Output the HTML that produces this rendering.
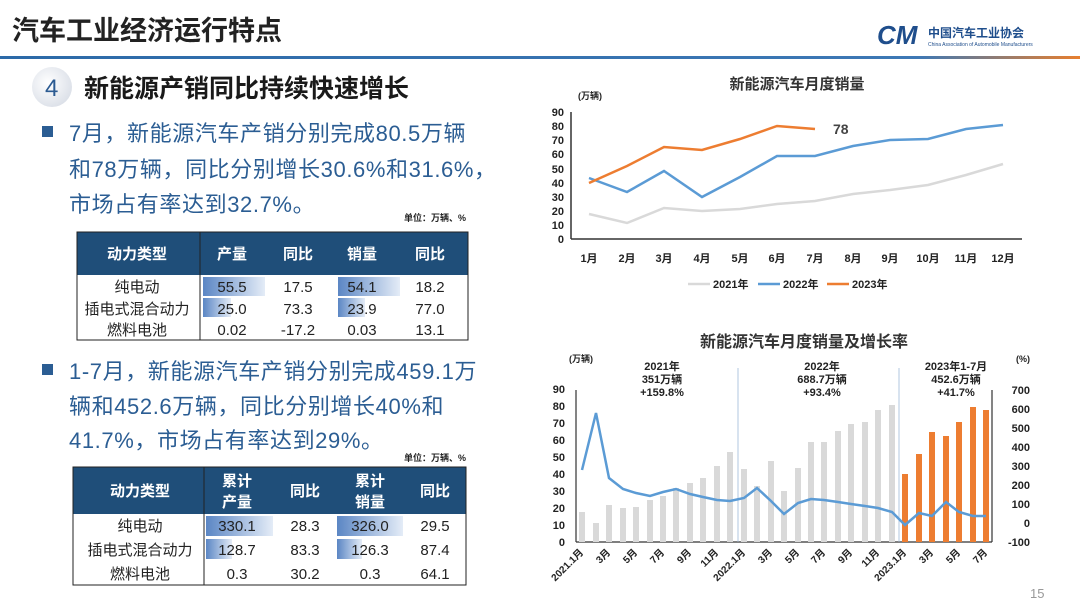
<!DOCTYPE html>
<html><head><meta charset="utf-8"><style>
html,body{margin:0;padding:0;background:#fff;}
svg{display:block;}
text{font-family:"Liberation Sans","Noto Sans CJK SC",sans-serif;}
</style></head><body>
<svg width="1080" height="607" viewBox="0 0 1080 607" xmlns="http://www.w3.org/2000/svg">
<defs>
<linearGradient id="hl" x1="0" x2="1" y1="0" y2="0">
<stop offset="0" stop-color="#2c6aa8"/><stop offset="0.85" stop-color="#3d78b5"/><stop offset="1" stop-color="#e87f2e"/></linearGradient>
<linearGradient id="db" x1="0" x2="1"><stop offset="0" stop-color="#5b86c4"/><stop offset="1" stop-color="#e4ecf7"/></linearGradient>
<radialGradient id="circ" cx="0.4" cy="0.4" r="0.7"><stop offset="0" stop-color="#fff"/><stop offset="1" stop-color="#d8dde6"/></radialGradient>
</defs>
<rect width="1080" height="607" fill="#fff"/>
<text x="12" y="40" font-size="27" font-weight="bold" fill="#222">汽车工业经济运行特点</text>
<text x="877" y="44" font-size="26" font-weight="bold" font-style="italic" fill="#1f4e8c">CM</text>
<text x="928" y="37" font-size="12" font-weight="bold" fill="#1f4e8c">中国汽车工业协会</text>
<text x="928" y="46" font-size="5" fill="#1f4e8c">China Association of Automobile Manufacturers</text>
<rect x="0" y="56" width="1080" height="3" fill="url(#hl)"/>
<circle cx="52" cy="87" r="20" fill="url(#circ)"/>
<text x="45" y="96" font-size="24" fill="#2c5b92">4</text>
<text x="84" y="97" font-size="25" font-weight="bold" fill="#1a1a1a">新能源产销同比持续快速增长</text>
<rect x="42" y="126" width="11" height="11" fill="#2b5d93"/>
<g font-size="22" fill="#2b5d93" letter-spacing="0.6">
<text x="69" y="141">7月，新能源汽车产销分别完成80.5万辆</text>
<text x="69" y="177">和78万辆，同比分别增长30.6%和31.6%，</text>
<text x="69" y="212">市场占有率达到32.7%。</text>
</g>
<text x="466" y="221" font-size="9" font-weight="bold" fill="#222" text-anchor="end">单位：万辆、%</text>
<rect x="77" y="232" width="391" height="43" fill="#1f4e79"/>
<g font-size="15" font-weight="bold" fill="#fff" text-anchor="middle">
<text x="137" y="259">动力类型</text><text x="232" y="259">产量</text><text x="298" y="259">同比</text><text x="362" y="259">销量</text><text x="430" y="259">同比</text></g>
<rect x="77" y="232" width="391" height="108" fill="none" stroke="#222" stroke-width="1"/>
<line x1="200" y1="232" x2="200" y2="340" stroke="#222"/>
<rect x="203" y="277" width="62" height="19" fill="url(#db)"/>
<rect x="203" y="298" width="28" height="19" fill="url(#db)"/>
<rect x="338" y="277" width="62" height="19" fill="url(#db)"/>
<rect x="338" y="298" width="27" height="19" fill="url(#db)"/>
<g font-size="15" fill="#222" text-anchor="middle">
<text x="137" y="292">纯电动</text><text x="232" y="292">55.5</text><text x="298" y="292">17.5</text><text x="362" y="292">54.1</text><text x="430" y="292">18.2</text>
<text x="137" y="314">插电式混合动力</text><text x="232" y="314">25.0</text><text x="298" y="314">73.3</text><text x="362" y="314">23.9</text><text x="430" y="314">77.0</text>
<text x="137" y="335">燃料电池</text><text x="232" y="335">0.02</text><text x="298" y="335">-17.2</text><text x="362" y="335">0.03</text><text x="430" y="335">13.1</text>
</g>
<rect x="42" y="364" width="11" height="11" fill="#2b5d93"/>
<g font-size="22" fill="#2b5d93" letter-spacing="0.6">
<text x="69" y="379">1-7月，新能源汽车产销分别完成459.1万</text>
<text x="69" y="414">辆和452.6万辆，同比分别增长40%和</text>
<text x="69" y="448">41.7%，市场占有率达到29%。</text>
</g>
<text x="466" y="461" font-size="9" font-weight="bold" fill="#222" text-anchor="end">单位：万辆、%</text>
<rect x="73" y="467" width="393" height="47" fill="#1f4e79"/>
<g font-size="15" font-weight="bold" fill="#fff" text-anchor="middle">
<text x="140" y="496">动力类型</text><text x="237" y="486">累计</text><text x="237" y="507">产量</text><text x="305" y="496">同比</text><text x="370" y="486">累计</text><text x="370" y="507">销量</text><text x="435" y="496">同比</text></g>
<rect x="73" y="467" width="393" height="118" fill="none" stroke="#222"/>
<line x1="204" y1="467" x2="204" y2="585" stroke="#222"/>
<rect x="206" y="516" width="67" height="20" fill="url(#db)"/>
<rect x="206" y="539" width="26" height="20" fill="url(#db)"/>
<rect x="337" y="516" width="66" height="20" fill="url(#db)"/>
<rect x="337" y="539" width="25" height="20" fill="url(#db)"/>
<g font-size="15" fill="#222" text-anchor="middle">
<text x="140" y="531">纯电动</text><text x="237" y="531">330.1</text><text x="305" y="531">28.3</text><text x="370" y="531">326.0</text><text x="435" y="531">29.5</text>
<text x="140" y="555">插电式混合动力</text><text x="237" y="555">128.7</text><text x="305" y="555">83.3</text><text x="370" y="555">126.3</text><text x="435" y="555">87.4</text>
<text x="140" y="579">燃料电池</text><text x="237" y="579">0.3</text><text x="305" y="579">30.2</text><text x="370" y="579">0.3</text><text x="435" y="579">64.1</text>
</g>

<text x="797" y="89" font-size="15" font-weight="bold" fill="#333" text-anchor="middle">新能源汽车月度销量</text>
<text x="578" y="99" font-size="9" font-weight="bold" fill="#222">(万辆)</text>
<g font-size="11" font-weight="bold" fill="#222" text-anchor="end">
<text x="564" y="243">0</text><text x="564" y="229">10</text><text x="564" y="215">20</text><text x="564" y="201">30</text><text x="564" y="187">40</text><text x="564" y="173">50</text><text x="564" y="158">60</text><text x="564" y="144">70</text><text x="564" y="130">80</text><text x="564" y="116">90</text></g>
<line x1="571" y1="112" x2="571" y2="239" stroke="#333" stroke-width="1.5"/>
<line x1="571" y1="239" x2="1022" y2="239" stroke="#333" stroke-width="1.5"/>
<g font-size="11" font-weight="bold" fill="#222" text-anchor="middle">
<text x="589" y="262">1月</text><text x="627" y="262">2月</text><text x="664" y="262">3月</text><text x="702" y="262">4月</text><text x="740" y="262">5月</text><text x="777" y="262">6月</text><text x="815" y="262">7月</text><text x="853" y="262">8月</text><text x="890" y="262">9月</text><text x="928" y="262">10月</text><text x="966" y="262">11月</text><text x="1003" y="262">12月</text></g>
<polyline fill="none" stroke="#d9d9d9" stroke-width="2.5" points="589,214 627,223 664,208 702,211 740,209 777,204 815,201 853,194 890,190 928,185 966,175 1003,164"/>
<polyline fill="none" stroke="#5b9bd5" stroke-width="2.5" points="589,178 627,192 664,171 702,197 740,177 777,156 815,156 853,146 890,140 928,139 966,129 1003,125"/>
<polyline fill="none" stroke="#ed7d31" stroke-width="2.5" points="589,183 627,166 664,147 702,150 740,139 777,126 815,129"/>
<text x="833" y="134" font-size="14" font-weight="bold" fill="#444">78</text>
<line x1="688" y1="284" x2="710" y2="284" stroke="#d9d9d9" stroke-width="2.5"/>
<text x="713" y="288" font-size="11" font-weight="bold" fill="#222">2021年</text>
<line x1="758" y1="284" x2="780" y2="284" stroke="#5b9bd5" stroke-width="2.5"/>
<text x="783" y="288" font-size="11" font-weight="bold" fill="#222">2022年</text>
<line x1="827" y1="284" x2="849" y2="284" stroke="#ed7d31" stroke-width="2.5"/>
<text x="852" y="288" font-size="11" font-weight="bold" fill="#222">2023年</text>

<text x="804" y="347" font-size="16" font-weight="bold" fill="#333" text-anchor="middle">新能源汽车月度销量及增长率</text>
<text x="569" y="362" font-size="9" font-weight="bold" fill="#222">(万辆)</text>
<text x="1016" y="362" font-size="9" font-weight="bold" fill="#222">(%)</text>
<g font-size="11" font-weight="bold" fill="#222" text-anchor="middle">
<text x="662" y="370">2021年</text><text x="662" y="383">351万辆</text><text x="662" y="396">+159.8%</text>
<text x="822" y="370">2022年</text><text x="822" y="383">688.7万辆</text><text x="822" y="396">+93.4%</text>
<text x="956" y="370">2023年1-7月</text><text x="956" y="383">452.6万辆</text><text x="956" y="396">+41.7%</text></g>
<g font-size="11" font-weight="bold" fill="#222" text-anchor="end">
<text x="565" y="546">0</text><text x="565" y="529">10</text><text x="565" y="512">20</text><text x="565" y="495">30</text><text x="565" y="478">40</text><text x="565" y="461">50</text><text x="565" y="444">60</text><text x="565" y="427">70</text><text x="565" y="410">80</text><text x="565" y="393">90</text></g>
<g font-size="11" font-weight="bold" fill="#222" text-anchor="end">
<text x="1030" y="546">-100</text><text x="1030" y="527">0</text><text x="1030" y="508">100</text><text x="1030" y="489">200</text><text x="1030" y="470">300</text><text x="1030" y="451">400</text><text x="1030" y="432">500</text><text x="1030" y="413">600</text><text x="1030" y="394">700</text></g>
<line x1="576" y1="390" x2="576" y2="542" stroke="#333" stroke-width="1.2"/>
<line x1="992" y1="390" x2="992" y2="542" stroke="#333" stroke-width="1.2"/>
<line x1="576" y1="542" x2="992" y2="542" stroke="#333" stroke-width="1.2"/>
<line x1="738" y1="368" x2="738" y2="542" stroke="#9fb9d8" stroke-width="0.8"/>
<line x1="899" y1="368" x2="899" y2="542" stroke="#9fb9d8" stroke-width="0.8"/>
<g fill="#d9d9d9">
<rect x="579" y="512" width="6" height="30"/><rect x="593" y="523" width="6" height="19"/><rect x="606" y="505" width="6" height="37"/><rect x="620" y="508" width="6" height="34"/><rect x="633" y="507" width="6" height="35"/><rect x="647" y="500" width="6" height="42"/><rect x="660" y="496" width="6" height="46"/><rect x="673" y="488" width="6" height="54"/><rect x="687" y="483" width="6" height="59"/><rect x="700" y="478" width="6" height="64"/><rect x="714" y="466" width="6" height="76"/><rect x="727" y="452" width="6" height="90"/>
<rect x="741" y="469" width="6" height="73"/><rect x="754" y="486" width="6" height="56"/><rect x="768" y="461" width="6" height="81"/><rect x="781" y="491" width="6" height="51"/><rect x="795" y="468" width="6" height="74"/><rect x="808" y="442" width="6" height="100"/><rect x="821" y="442" width="6" height="100"/><rect x="835" y="431" width="6" height="111"/><rect x="848" y="424" width="6" height="118"/><rect x="862" y="422" width="6" height="120"/><rect x="875" y="410" width="6" height="132"/><rect x="889" y="405" width="6" height="137"/></g>
<g fill="#ed7d31">
<rect x="902" y="474" width="6" height="68"/><rect x="916" y="454" width="6" height="88"/><rect x="929" y="432" width="6" height="110"/><rect x="943" y="436" width="6" height="106"/><rect x="956" y="422" width="6" height="120"/><rect x="970" y="407" width="6" height="135"/><rect x="983" y="410" width="6" height="132"/></g>
<polyline fill="none" stroke="#5b9bd5" stroke-width="2.5" points="582,470 596,413 609,478 623,489 636,493 650,496 663,492 676,489 690,494 703,497 717,500 730,501 744,498 757,488 771,501 784,514 798,503 811,499 824,500 838,502 851,504 865,506 878,508 892,512 905,525 919,513 932,516 946,502 959,512 973,516 986,516"/>
<g font-size="10" font-weight="bold" fill="#222" text-anchor="end">
<text transform="translate(584,553) rotate(-45)">2021.1月</text>
<text transform="translate(611,553) rotate(-45)">3月</text>
<text transform="translate(638,553) rotate(-45)">5月</text>
<text transform="translate(665,553) rotate(-45)">7月</text>
<text transform="translate(692,553) rotate(-45)">9月</text>
<text transform="translate(719,553) rotate(-45)">11月</text>
<text transform="translate(746,553) rotate(-45)">2022.1月</text>
<text transform="translate(773,553) rotate(-45)">3月</text>
<text transform="translate(800,553) rotate(-45)">5月</text>
<text transform="translate(826,553) rotate(-45)">7月</text>
<text transform="translate(853,553) rotate(-45)">9月</text>
<text transform="translate(880,553) rotate(-45)">11月</text>
<text transform="translate(907,553) rotate(-45)">2023.1月</text>
<text transform="translate(934,553) rotate(-45)">3月</text>
<text transform="translate(961,553) rotate(-45)">5月</text>
<text transform="translate(988,553) rotate(-45)">7月</text></g>
<text x="1030" y="598" font-size="13" fill="#999">15</text>
</svg>
</body></html>
